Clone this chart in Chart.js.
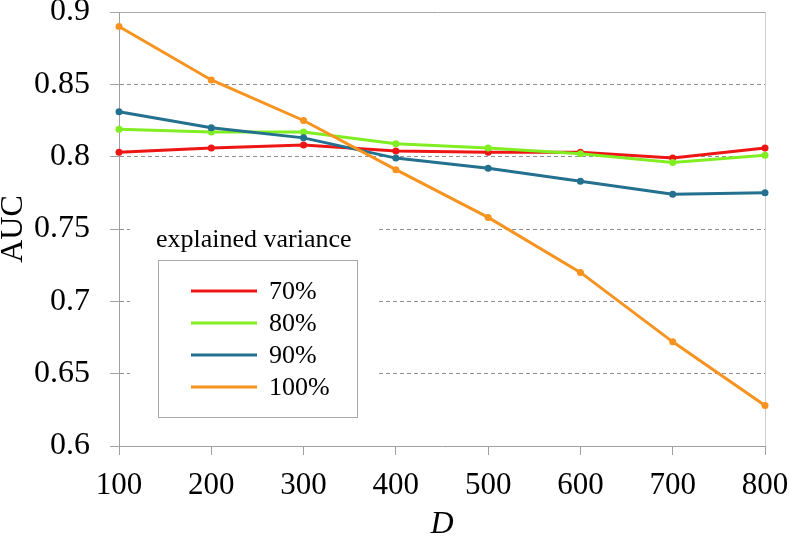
<!DOCTYPE html>
<html lang="en">
<head>
    <meta charset="UTF-8">
    <title>AUC vs D</title>
    <style>
        body { margin: 0; background: #fff; }
        .chart-box { position: relative; width: 789px; height: 537px; }
    </style>
</head>
<body>
    <div class="chart-box">
        <canvas id="aucChart"></canvas>
    </div>

    <script src="https://cdn.jsdelivr.net/npm/chart.js"></script>
    <script>
        // x categories (D)
        const dValues = ['100', '200', '300', '400', '500', '600', '700', '800'];

        // AUC per explained variance level
        const auc70  = [0.803, 0.806, 0.808, 0.804, 0.803, 0.803, 0.799, 0.806];
        const auc80  = [0.819, 0.817, 0.817, 0.809, 0.806, 0.802, 0.796, 0.801];
        const auc90  = [0.831, 0.820, 0.813, 0.799, 0.792, 0.783, 0.774, 0.775];
        const auc100 = [0.890, 0.853, 0.825, 0.791, 0.758, 0.720, 0.672, 0.628];

        const seriesNames = ['70%', '80%', '90%', '100%'];
        const yTicks = [0.6, 0.65, 0.7, 0.75, 0.8, 0.85, 0.9];

        const colors = ['#ee1515', '#80ee22', '#24708f', '#f7931e'];
        const serif = "'Liberation Serif', 'DejaVu Serif', serif";

        function makeSet(i, data, order) {
            return {
                label: seriesNames[i],
                data: data,
                borderColor: colors[i],
                backgroundColor: colors[i],
                borderWidth: 3,
                pointRadius: 3.5,
                pointBorderWidth: 0,
                pointBackgroundColor: colors[i],
                tension: 0,
                clip: false,
                order: order
            };
        }

        // frame (top line) and custom legend box
        const framePlugin = {
            id: 'frame',
            beforeDatasetsDraw(chart) {
                const { ctx, chartArea: a } = chart;
                ctx.save();
                ctx.lineWidth = 1;
                ctx.strokeStyle = '#a8a8a8';
                ctx.beginPath();
                ctx.moveTo(a.left - 9, Math.round(a.top) + 0.5);
                ctx.lineTo(a.right, Math.round(a.top) + 0.5);
                ctx.stroke();
                ctx.restore();
            },
            afterDraw(chart) {
                const { ctx } = chart;
                ctx.save();
                ctx.fillStyle = '#fff';
                ctx.fillRect(130, 218, 246, 212);

                ctx.fillStyle = '#000';
                ctx.font = '26px ' + serif;
                ctx.textAlign = 'left';
                ctx.textBaseline = 'alphabetic';
                ctx.fillText('explained variance', 156, 247);

                ctx.strokeStyle = '#a8a8a8';
                ctx.lineWidth = 1;
                ctx.strokeRect(158.5, 260.5, 199, 157);

                ctx.font = '26px ' + serif;
                ctx.textBaseline = 'middle';
                seriesNames.forEach((name, i) => {
                    const y = 291 + i * 32;
                    ctx.strokeStyle = colors[i];
                    ctx.lineWidth = 3;
                    ctx.beginPath();
                    ctx.moveTo(191, y);
                    ctx.lineTo(257, y);
                    ctx.stroke();
                    ctx.fillStyle = '#000';
                    ctx.fillText(name, 269, y + 1);
                });
                ctx.restore();
            }
        };

        const ctx = document.getElementById('aucChart').getContext('2d');
        new Chart(ctx, {
            type: 'line',
            data: {
                labels: dValues,
                datasets: [
                    makeSet(0, auc70, 3),
                    makeSet(1, auc80, 2),
                    makeSet(2, auc90, 1),
                    makeSet(3, auc100, 0)
                ]
            },
            options: {
                responsive: true,
                maintainAspectRatio: false,
                animation: false,
                devicePixelRatio: 1,
                layout: { padding: { left: 0, top: 12, right: 24, bottom: 0 } },
                plugins: {
                    legend: { display: false },
                    tooltip: { enabled: false }
                },
                scales: {
                    x: {
                        offset: false,
                        afterFit(scale) {
                            scale.height = 91;
                            scale.paddingLeft = 0;
                            scale.paddingRight = 0;
                        },
                        ticks: {
                            color: '#000',
                            padding: 15,
                            maxRotation: 0,
                            font: { family: serif, size: 31, lineHeight: 1 }
                        },
                        grid: {
                            drawOnChartArea: true,
                            color: c => (c.index === dValues.length - 1 ? '#cccccc' : 'rgba(0,0,0,0)'),
                            tickColor: '#a0a0a0',
                            tickLength: 9,
                            lineWidth: 1
                        },
                        border: { display: true, color: '#a0a0a0', width: 1 },
                        title: {
                            display: true,
                            text: 'D',
                            color: '#000',
                            padding: { top: 0, bottom: -4 },
                            font: { family: serif, size: 32, style: 'italic', lineHeight: 1 }
                        }
                    },
                    y: {
                        min: 0.6,
                        max: 0.9,
                        afterFit(scale) {
                            scale.width = 119;
                            scale.paddingTop = 0;
                            scale.paddingBottom = 0;
                        },
                        afterBuildTicks(scale) {
                            scale.ticks = yTicks.map(v => ({ value: v }));
                        },
                        ticks: {
                            color: '#000',
                            padding: 20,
                            font: { family: serif, size: 32, lineHeight: 1 },
                            callback: v => String(parseFloat(v.toFixed(2)))
                        },
                        grid: {
                            color: c => {
                                const v = c.tick ? c.tick.value : 0;
                                return (v < 0.62 || v > 0.88) ? 'rgba(0,0,0,0)' : '#909090';
                            },
                            tickColor: '#a0a0a0',
                            tickLength: 9,
                            lineWidth: 1
                        },
                        border: { display: true, color: '#a0a0a0', width: 1, dash: [4, 3] },
                        title: {
                            display: true,
                            text: 'AUC',
                            color: '#000',
                            padding: { top: -2, bottom: 0 },
                            font: { family: serif, size: 32, lineHeight: 1 }
                        }
                    }
                }
            },
            plugins: [framePlugin]
        });
    </script>
</body>
</html>
